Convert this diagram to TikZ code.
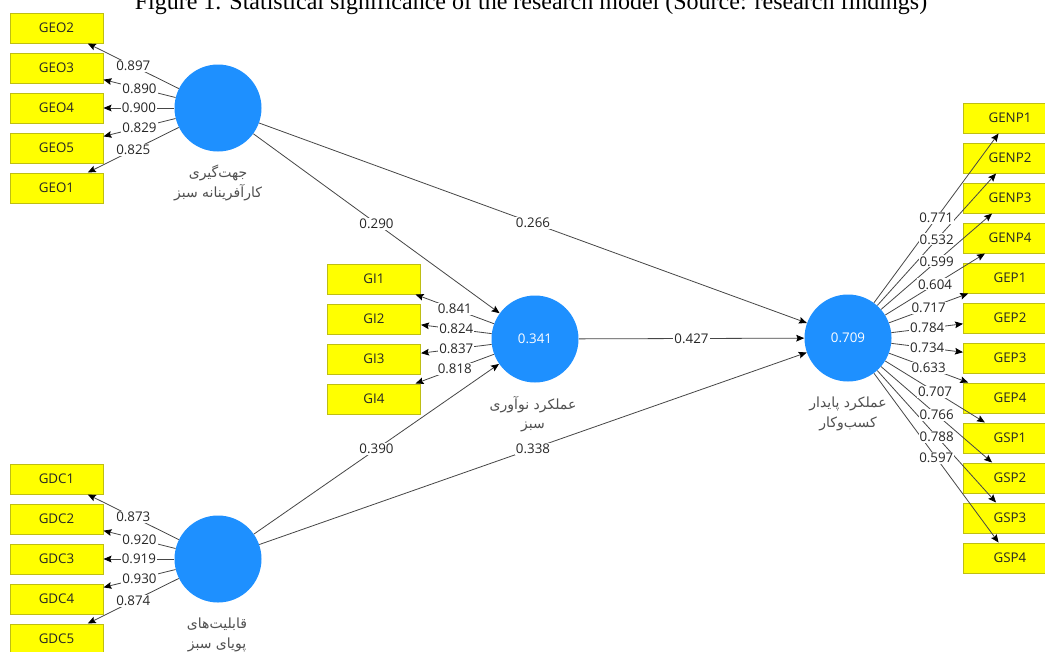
\documentclass[tikz,border=0pt]{standalone}
\usepackage{fontspec}
\setmainfont{Open Sans}
\newfontfamily\tnr{Liberation Serif}
\newfontfamily\fa[Script=Arabic]{DejaVu Sans}
\TeXXeTstate=1
\usetikzlibrary{arrows.meta}
\definecolor{circblue}{RGB}{30,144,255}
\definecolor{boxyellow}{RGB}{255,255,0}
\definecolor{boxborder}{RGB}{190,190,20}
\definecolor{linegray}{RGB}{70,70,70}
\definecolor{fagray}{RGB}{80,80,80}
\begin{document}
\begin{tikzpicture}[x=0.75pt,y=-0.75pt,
  ind/.style={draw=boxborder, fill=boxyellow, line width=0.75pt, minimum width=69.75pt, minimum height=22.5pt, inner sep=0pt, font=\fontsize{10}{12}\selectfont, text=black!85},
  lv/.style={circle, fill=circblue, minimum size=65.25pt, inner sep=0pt, text=white, font=\fontsize{10}{12}\selectfont},
  load/.style={draw=linegray, line width=0.6pt, -{Stealth[length=6pt,width=5pt,inset=1pt,color=black]}},
  lbl/.style={fill=white, inner sep=0.8pt, font=\fontsize{10}{12}\selectfont, text=black!85},
  falbl/.style={font=\fa\fontsize{10.5}{14.5}\selectfont, align=center, text=fagray}
]
\fill[white] (0,0) rectangle (1045,651);
\useasboundingbox (0,0) rectangle (1045,651);

\node[font=\tnr\fontsize{18}{20}\selectfont, anchor=base, text=black] (title) at (531,9) {Figure 1. Statistical significance of the research model (Source: research findings)};

% latent variables
\node[lv] (GEO) at (218,108) {};
\node[lv] (GI) at (535,339) {0.341};
\node[lv] (SBP) at (848,338) {0.709};
\node[lv] (GDC) at (218,559) {};

% persian labels
\node[falbl] (GEOlab) at (218,183) {\beginR جهت^^^^200cگیری\endR\\\beginR کارآفرینانه سبز\endR};
\node[falbl] (GIlab) at (533,414) {\beginR عملکرد نوآوری\endR\\\beginR سبز\endR};
\node[falbl] (SBPlab) at (848,414) {\beginR عملکرد پایدار\endR\\\beginR کسب^^^^200cوکار\endR};
\node[falbl] (GDClab) at (217,635) {\beginR قابلیت^^^^200cهای\endR\\\beginR پویای سبز\endR};

% indicators
\foreach \n [count=\i from 0] in {GEO2,GEO3,GEO4,GEO5,GEO1}
  \node[ind] (\n) at (56.5,28+40*\i) {\n};
\foreach \n [count=\i from 0] in {GI1,GI2,GI3,GI4}
  \node[ind] (\n) at (374,279+40*\i) {\n};
\foreach \n [count=\i from 0] in {GDC1,GDC2,GDC3,GDC4,GDC5}
  \node[ind] (\n) at (56.5,479+40*\i) {\n};
\foreach \n [count=\i from 0] in {GENP1,GENP2,GENP3,GENP4,GEP1,GEP2,GEP3,GEP4,GSP1,GSP2,GSP3,GSP4}
  \node[ind] (\n) at (1010,118+40*\i) {\n};

% connectors (lines)
\foreach \a/\b in {GEO/GEO2,GEO/GEO3,GEO/GEO4,GEO/GEO5,GEO/GEO1,
  GI/GI1,GI/GI2,GI/GI3,GI/GI4,
  GDC/GDC1,GDC/GDC2,GDC/GDC3,GDC/GDC4,GDC/GDC5,
  SBP/GENP1,SBP/GENP2,SBP/GENP3,SBP/GENP4,SBP/GEP1,SBP/GEP2,SBP/GEP3,SBP/GEP4,SBP/GSP1,SBP/GSP2,SBP/GSP3,SBP/GSP4,
  GEO/GI,GEO/SBP,GDC/GI,GDC/SBP,GI/SBP}
  \draw[load] (\a) -- (\b);

% labels
\foreach \a/\b/\v in {GEO/GEO2/0.897,GEO/GEO3/0.890,GEO/GEO4/0.900,GEO/GEO5/0.829,GEO/GEO1/0.825,
  GI/GI1/0.841,GI/GI2/0.824,GI/GI3/0.837,GI/GI4/0.818,
  GDC/GDC1/0.873,GDC/GDC2/0.920,GDC/GDC3/0.919,GDC/GDC4/0.930,GDC/GDC5/0.874,
  SBP/GENP1/0.771,SBP/GENP2/0.532,SBP/GENP3/0.599,SBP/GENP4/0.604,SBP/GEP1/0.717,SBP/GEP2/0.784,
  SBP/GEP3/0.734,SBP/GEP4/0.633,SBP/GSP1/0.707,SBP/GSP2/0.766,SBP/GSP3/0.788,SBP/GSP4/0.597,
  GEO/GI/0.290,GEO/SBP/0.266,GDC/GI/0.390,GDC/SBP/0.338,GI/SBP/0.427}
  \path (\a) -- node[lbl] {\v} (\b);
\end{tikzpicture}
\end{document}
